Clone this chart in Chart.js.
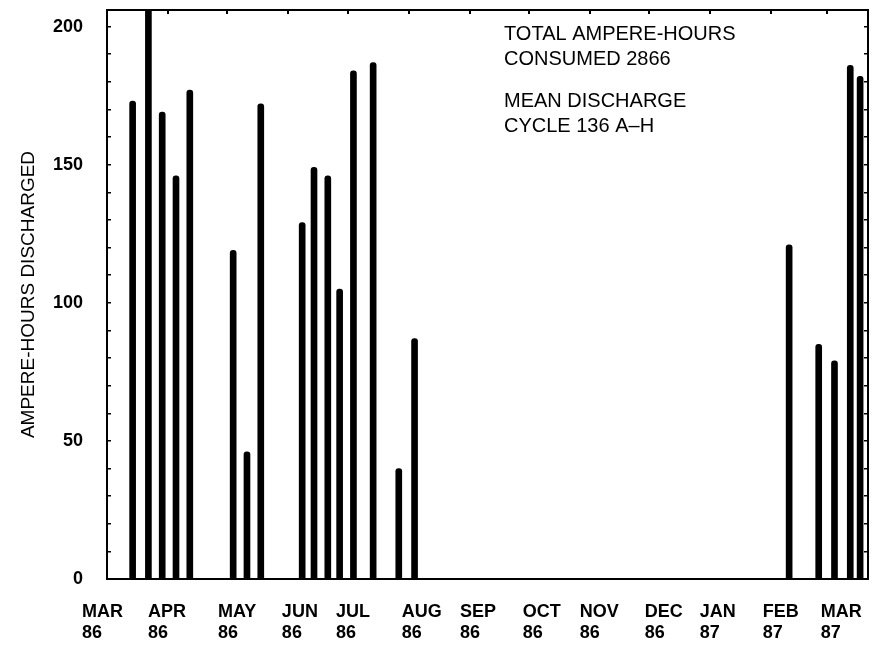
<!DOCTYPE html>
<html><head><meta charset="utf-8">
<script src="https://cdn.jsdelivr.net/npm/chart.js@4.4.1/dist/chart.umd.min.js"></script>
<style>html,body{margin:0;padding:0;background:#fff}canvas{display:block}</style>
</head><body>
<canvas id="c" width="873" height="651"></canvas>
<script>
// Discharge days, counted from 1 March 1986
const dischargeDays = [13, 21, 28, 35, 42, 64, 71, 78, 99, 105, 112, 118, 125, 135, 148, 156, 346, 361, 369, 377, 382];
// Ampere-hours discharged on each of those days
const ampereHours = [173, 207, 169, 146, 177, 119, 46, 172, 129, 149, 146, 105, 184, 187, 40, 87, 121, 85, 79, 186, 182];
// Month tick labels and where they sit (days from 1 March 1986)
const monthLabels = ['MAR', 'APR', 'MAY', 'JUN', 'JUL', 'AUG', 'SEP', 'OCT', 'NOV', 'DEC', 'JAN', 'FEB', 'MAR'];
const yearLabels = ['86', '86', '86', '86', '86', '86', '86', '86', '86', '86', '87', '87', '87'];
const monthLabelDays = [-12.7, 20.8, 56.3, 88.7, 116.1, 149.5, 179, 210.9, 239.8, 272.7, 300.6, 332.6, 362];
const monthStartDays = [0, 31, 61, 92, 122, 153, 184, 214, 245, 275, 306, 337, 365];
const yMin = 0, yMax = 206, yMajorStep = 50, yMinorStep = 10;
const xMin = 0, xMax = 386;
const yTitle = 'AMPERE-HOURS DISCHARGED';
const noteLines = ['TOTAL AMPERE-HOURS', 'CONSUMED 2866', '', 'MEAN DISCHARGE', 'CYCLE 136 A\u2013H'];

const FONT = '"Liberation Sans", Arial, Helvetica, sans-serif';

function noPad(s) { s.paddingLeft = 0; s.paddingRight = 0; s.paddingTop = 0; s.paddingBottom = 0; }

const framePlugin = {
  id: 'frame',
  afterDatasetsDraw(chart) {
    const {ctx, chartArea: a} = chart;
    ctx.save();
    ctx.strokeStyle = '#000';
    ctx.lineWidth = 2;
    ctx.strokeRect(a.left, a.top, a.right - a.left, a.bottom - a.top);
    ctx.restore();
  }
};
const notePlugin = {
  id: 'notes',
  afterDatasetsDraw(chart) {
    const {ctx, chartArea: a} = chart;
    ctx.save();
    ctx.font = '20px ' + FONT;
    ctx.fillStyle = '#000';
    ctx.textAlign = 'left';
    ctx.textBaseline = 'alphabetic';
    const x = a.left + 397;
    let y = a.top + 30;
    noteLines.forEach(t => {
      if (t === '') { y += 16.6; return; }
      ctx.fillText(t, x, y);
      y += 25;
    });
    ctx.restore();
  }
};

new Chart(document.getElementById('c'), {
  type: 'bar',
  data: {
    datasets: [{
      data: dischargeDays.map((d, i) => ({x: d, y: ampereHours[i]})),
      backgroundColor: '#000',
      borderWidth: 0,
      barThickness: 6,
      borderRadius: {topLeft: 3, topRight: 3},
      borderSkipped: 'start',
      clip: 0
    }]
  },
  options: {
    responsive: false,
    animation: false,
    layout: {padding: {top: 10, right: 5, left: 0, bottom: 0}},
    plugins: {legend: {display: false}, tooltip: {enabled: false}},
    scales: {
      x: {
        type: 'linear', position: 'bottom', min: xMin, max: xMax, offset: false,
        afterBuildTicks: s => { s.ticks = monthLabelDays.map(v => ({value: v})); },
        afterFit: s => { s.height = 72; noPad(s); },
        grid: {display: false, drawTicks: false, offset: false},
        border: {display: false},
        ticks: {
          autoSkip: false, align: 'start', padding: 22, maxRotation: 0, minRotation: 0,
          color: '#000', font: {family: FONT, size: 18, weight: 'bold', lineHeight: 1.2},
          callback: (v, i) => [monthLabels[i], yearLabels[i]]
        }
      },
      xTop: {
        type: 'linear', position: 'top', min: xMin, max: xMax, offset: false,
        afterBuildTicks: s => { s.ticks = monthStartDays.map(v => ({value: v})); },
        afterFit: s => { s.height = 0; noPad(s); },
        grid: {drawOnChartArea: false, drawTicks: true, tickLength: -4, color: '#000', lineWidth: 2, offset: false},
        border: {display: false},
        ticks: {display: false}
      },
      y: {
        type: 'linear', position: 'left', min: yMin, max: yMax,
        afterFit: s => { s.width = 107; noPad(s); },
        grid: {drawOnChartArea: false, drawTicks: true, tickLength: -4, color: '#000', lineWidth: 1.5},
        border: {display: false},
        ticks: {
          stepSize: yMinorStep, includeBounds: false, autoSkip: false, padding: 28, color: '#000',
          font: {family: FONT, size: 18, weight: 'bold'},
          callback: v => (v % yMajorStep === 0 ? String(v) : '')
        },
        title: {
          display: true, text: yTitle, color: '#000',
          font: {family: FONT, size: 19, weight: 'normal'},
          padding: {top: 17, bottom: 0}
        }
      },
      yRight: {
        type: 'linear', position: 'right', min: yMin, max: yMax,
        afterFit: s => { s.width = 0; noPad(s); },
        grid: {drawOnChartArea: false, drawTicks: true, tickLength: -4, color: '#000', lineWidth: 1.5},
        border: {display: false},
        ticks: {display: false, stepSize: yMinorStep, includeBounds: false}
      }
    }
  },
  plugins: [framePlugin, notePlugin]
});
</script>
</body></html>
